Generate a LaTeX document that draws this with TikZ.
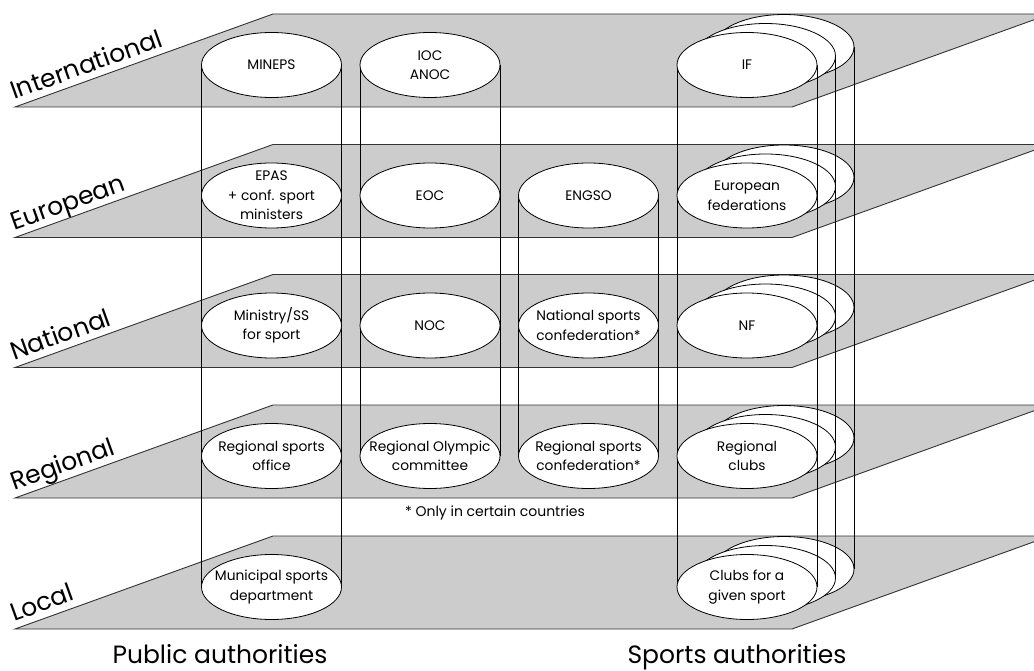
\documentclass[tikz,border=0pt]{standalone}
\usepackage{fontspec}
\setmainfont{Poppins}
\usetikzlibrary{shapes.geometric}
\begin{document}
\begin{tikzpicture}[x=1pt,y=-1pt,
  plane/.style={fill=gray!40, draw=black!80, line width=0.9pt},
  org/.style={ellipse, draw=black, fill=white, line width=0.8pt, minimum width=140pt, minimum height=65pt, inner sep=0pt, outer sep=0pt},
  orgtxt/.style={align=center, font=\fontsize{13.8}{19.5}\selectfont, inner sep=0pt},
  lvl/.style={anchor=base west, rotate=19.8, font=\fontsize{25}{30}\selectfont, inner sep=0pt},
  col/.style={line width=0.8pt},
  big/.style={anchor=base, font=\fontsize{25}{30}\selectfont, inner sep=0pt}]
\useasboundingbox (0,0) rectangle (1034,671);
\clip (0,0) rectangle (1034,671);
% planes
\foreach \yt/\name in {14/International,144.5/European,274.5/National,405/Regional,536/Local}{
  \draw[plane] (15,{\yt+93}) -- (792,{\yt+93}) -- (1050,\yt) -- (273,\yt) -- cycle;
  \node[lvl] (lab\name) at (14,{\yt+86}) {\name};
}
% back ellipses of the sports stack
\foreach \y/\n in {65/if,195.5/ef,325.5/nf,456/rc,587/cl}{
  \node[org] (\n3) at (784,{\y-18}) {};
  \node[org] (\n2) at (765.5,{\y-9}) {};
}
% front ellipse positions
\path
  (271.5,65) coordinate (c11) (430,65) coordinate (c12) (747,65) coordinate (c14)
  (271.5,195.5) coordinate (c21) (430,195.5) coordinate (c22) (588.5,195.5) coordinate (c23) (747,195.5) coordinate (c24)
  (271.5,325.5) coordinate (c31) (430,325.5) coordinate (c32) (588.5,325.5) coordinate (c33) (747,325.5) coordinate (c34)
  (271.5,456) coordinate (c41) (430,456) coordinate (c42) (588.5,456) coordinate (c43) (747,456) coordinate (c44)
  (271.5,587) coordinate (c51) (747,587) coordinate (c54);
% vertical connectors
\draw[col] ([xshift=-70pt]c11) -- ([xshift=-70pt]c51);
\draw[col] ([xshift=70pt]c11) -- ([xshift=70pt]c51);
\draw[col] ([xshift=-70pt]c12) -- ([xshift=-70pt]c42);
\draw[col] ([xshift=70pt]c12) -- ([xshift=70pt]c42);
\draw[col] ([xshift=-70pt]c23) -- ([xshift=-70pt]c43);
\draw[col] ([xshift=70pt]c23) -- ([xshift=70pt]c43);
\draw[col] ([xshift=-70pt]c14) -- ([xshift=-70pt]c54);
\draw[col] ([xshift=70pt]c14) -- ([xshift=70pt]c54);
\draw[col] (if2.east) -- (cl2.east);
\draw[col] (if3.east) -- (cl3.east);
% front ellipses with texts
\node[org] (mineps) at (c11) {};  \node[orgtxt] at (mineps) {MINEPS};
\node[org] (ioc) at (c12) {};     \node[orgtxt] at (ioc) {IOC\\ANOC};
\node[org] (if) at (c14) {};      \node[orgtxt] at (if) {IF};
\node[org] (epas) at (c21) {};    \node[orgtxt] at (epas) {EPAS\\+ conf. sport\\ministers};
\node[org] (eoc) at (c22) {};     \node[orgtxt] at (eoc) {EOC};
\node[org] (engso) at (c23) {};   \node[orgtxt] at (engso) {ENGSO};
\node[org] (ef) at (c24) {};      \node[orgtxt] at (ef) {European\\federations};
\node[org] (min) at (c31) {};     \node[orgtxt] at (min) {Ministry/SS\\for sport};
\node[org] (noc) at (c32) {};     \node[orgtxt] at (noc) {NOC};
\node[org] (nsc) at (c33) {};     \node[orgtxt] at (nsc) {National sports\\confederation*};
\node[org] (nf) at (c34) {};      \node[orgtxt] at (nf) {NF};
\node[org] (rso) at (c41) {};     \node[orgtxt] at (rso) {Regional sports\\office};
\node[org] (roc) at (c42) {};     \node[orgtxt] at (roc) {Regional Olympic\\committee};
\node[org] (rsc) at (c43) {};     \node[orgtxt] at (rsc) {Regional sports\\confederation*};
\node[org] (rc) at (c44) {};      \node[orgtxt] at (rc) {Regional\\clubs};
\node[org] (msd) at (c51) {};     \node[orgtxt] at (msd) {Municipal sports\\department};
\node[org] (cl) at (c54) {};      \node[orgtxt] at (cl) {Clubs for a\\given sport};
% notes and column titles
\node[anchor=base, inner sep=0pt, font=\fontsize{14}{16}\selectfont] (note) at (495,516) {* Only in certain countries};
\node[big] (pub) at (220,663) {Public authorities};
\node[big] (spo) at (737,663) {Sports authorities};
\end{tikzpicture}
\end{document}
